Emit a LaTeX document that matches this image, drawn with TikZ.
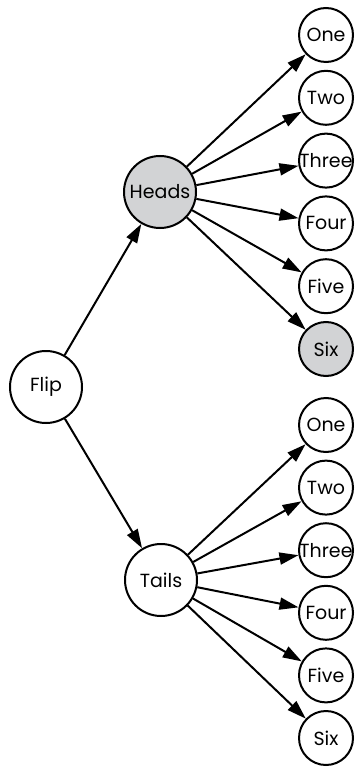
\documentclass[tikz,border=0pt]{standalone}
\usepackage{fontspec}
\setmainfont{Poppins}
\usetikzlibrary{arrows.meta}
\definecolor{pickgray}{RGB}{210,211,213}
\tikzset{
	state/.style={circle, draw, line width=2pt, minimum size=72pt, inner sep=0pt,
		font=\fontsize{19}{21}\selectfont},
	leaf/.style={state, minimum size=54pt},
	branch/.style={-{Triangle[length=19pt,width=12pt]}, line width=2pt}
}

\begin{document}
\begin{tikzpicture}[x=1pt,y=-1pt]
%%%%%%%%%%%%%%%%%%
\useasboundingbox (0,0) rectangle (355,767);

%Root and first toss
	\node[state] (flip) at (46,387) {Flip};
	\node[state, fill=pickgray] (heads) at (160,192) {Heads};
	\node[state] (tails) at (161,580) {Tails};

%Die faces
	\foreach \name/\shade [count=\i] in {One/white,Two/white,Three/white,Four/white,Five/white,Six/pickgray}
	{
		\node[leaf, fill=\shade] (h\i) at (326,{35+62.8*(\i-1)}) {\makebox[0pt]{\name}};
		\node[leaf] (t\i) at (326,{425+62.6*(\i-1)}) {\makebox[0pt]{\name}};
	}

% Connect nodes with arrows
	\draw[branch] (flip) -- (heads);
	\draw[branch] (flip) -- (tails);
	\foreach \i in {1,...,6}
	{
		\draw[branch] (heads) -- (h\i);
		\draw[branch] (tails) -- (t\i);
	}

\end{tikzpicture}
\end{document}
